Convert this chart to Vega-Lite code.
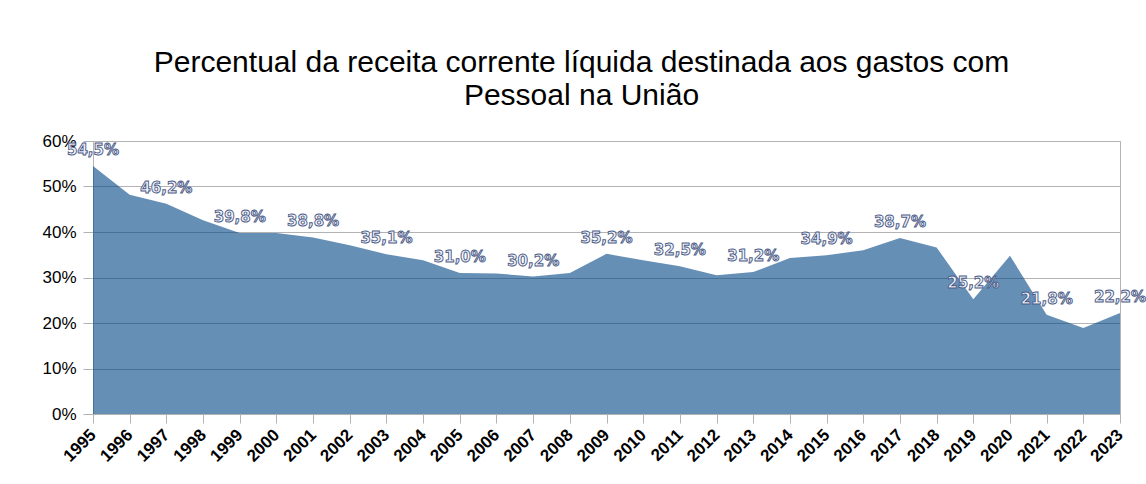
{
  "$schema": "https://vega.github.io/schema/vega-lite/v6.json",
  "autosize": {"type": "none"},
  "width": 1027,
  "height": 273,
  "padding": {"left": 93, "top": 141, "right": 26, "bottom": 70},
  "background": "white",
  "title": {
    "text": ["Percentual da receita corrente líquida destinada aos gastos com", "Pessoal na União"],
    "font": "Liberation Sans",
    "fontSize": 30,
    "fontWeight": "normal",
    "color": "#000000",
    "anchor": "middle",
    "frame": "group",
    "dx": -25,
    "offset": 21,
    "lineHeight": 33
  },
  "config": {
    "view": {"stroke": "#b3b3b3", "strokeWidth": 1},
    "axis": {"labelFont": "Liberation Sans", "gridColor": "#b3b3b3", "domainColor": "#b3b3b3", "tickColor": "#b3b3b3"}
  },
  "data": {
    "values": [
      {"ano": "1995", "pct": 54.5, "label": "54,5%"},
      {"ano": "1996", "pct": 48.2, "label": ""},
      {"ano": "1997", "pct": 46.2, "label": "46,2%"},
      {"ano": "1998", "pct": 42.6, "label": ""},
      {"ano": "1999", "pct": 39.8, "label": "39,8%"},
      {"ano": "2000", "pct": 39.8, "label": ""},
      {"ano": "2001", "pct": 38.8, "label": "38,8%"},
      {"ano": "2002", "pct": 37.1, "label": ""},
      {"ano": "2003", "pct": 35.1, "label": "35,1%"},
      {"ano": "2004", "pct": 33.8, "label": ""},
      {"ano": "2005", "pct": 31.0, "label": "31,0%"},
      {"ano": "2006", "pct": 30.9, "label": ""},
      {"ano": "2007", "pct": 30.2, "label": "30,2%"},
      {"ano": "2008", "pct": 31.0, "label": ""},
      {"ano": "2009", "pct": 35.2, "label": "35,2%"},
      {"ano": "2010", "pct": 33.8, "label": ""},
      {"ano": "2011", "pct": 32.5, "label": "32,5%"},
      {"ano": "2012", "pct": 30.5, "label": ""},
      {"ano": "2013", "pct": 31.2, "label": "31,2%"},
      {"ano": "2014", "pct": 34.3, "label": ""},
      {"ano": "2015", "pct": 34.9, "label": "34,9%"},
      {"ano": "2016", "pct": 36.0, "label": ""},
      {"ano": "2017", "pct": 38.7, "label": "38,7%"},
      {"ano": "2018", "pct": 36.6, "label": ""},
      {"ano": "2019", "pct": 25.2, "label": "25,2%"},
      {"ano": "2020", "pct": 34.8, "label": ""},
      {"ano": "2021", "pct": 21.8, "label": "21,8%"},
      {"ano": "2022", "pct": 18.9, "label": ""},
      {"ano": "2023", "pct": 22.2, "label": "22,2%"}
    ]
  },
  "encoding": {
    "x": {
      "field": "ano",
      "type": "ordinal",
      "scale": {"type": "point", "padding": 0},
      "axis": {
        "title": null,
        "labelAngle": -45,
        "labelAlign": "right",
        "labelBaseline": "middle",
        "labelFontSize": 17,
        "labelFontWeight": "bold",
        "labelColor": "#000000",
        "labelPadding": 9,
        "tickSize": 9,
        "grid": false
      }
    },
    "y": {
      "field": "pct",
      "type": "quantitative",
      "scale": {"domain": [0, 60], "nice": false},
      "axis": {
        "title": null,
        "values": [0, 10, 20, 30, 40, 50, 60],
        "labelExpr": "datum.value + '%'",
        "labelFontSize": 17,
        "labelColor": "#000000",
        "labelPadding": 7,
        "tickSize": 10,
        "grid": true
      }
    }
  },
  "layer": [
    {
      "mark": {"type": "area", "color": "#004586", "opacity": 0.6, "interpolate": "linear"}
    },
    {
      "mark": {
        "type": "text",
        "dy": -16,
        "font": "DejaVu Sans",
        "fontSize": 15,
        "fontWeight": "bold",
        "fill": "#f2f4fa",
        "stroke": "#4a5a86",
        "strokeWidth": 0.9
      },
      "encoding": {"text": {"field": "label"}}
    }
  ]
}
